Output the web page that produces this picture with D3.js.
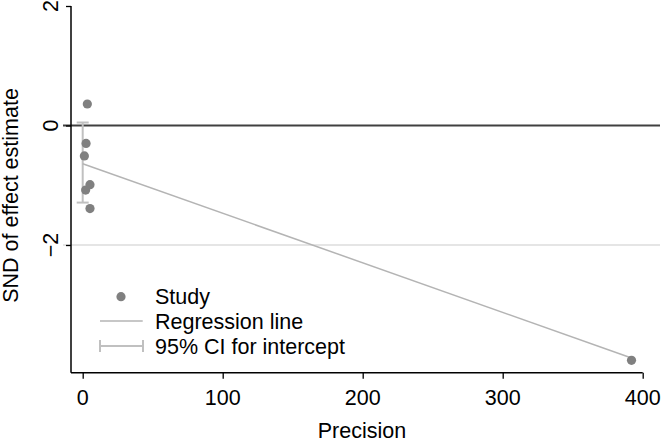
<!DOCTYPE html>
<html><head><meta charset="utf-8">
<script src="https://cdn.jsdelivr.net/npm/d3@7"></script>
<style>body{margin:0;background:#fff}svg{display:block}text{font-family:"Liberation Sans",Arial,sans-serif;fill:#000}</style>
</head><body><svg id="c" width="663" height="442"></svg>
<script>
const precision = [3.3, 2.4, 1.2, 5.2, 2.1, 5.2, 392];
const snd = [0.36, -0.30, -0.51, -0.99, -1.08, -1.39, -3.93];
const regX = [0, 392];
const regY = [-0.64, -3.89];
const ciIntercept = [0.05, -1.29];
const xTicks = [0, 100, 200, 300, 400];
const yTicks = [2, 0, -2];
const refLines = [0, -2];
const legendLabels = ["Study", "Regression line", "95% CI for intercept"];

const svg = d3.select("#c");
const x = d3.scaleLinear().domain([0, 400]).range([82.7, 642.7]);
const y = d3.scaleLinear().domain([2, -2]).range([6, 245]);
const xLeft = 71, yBottom = 372.7;
const fs = "21.5px";

// reference lines
svg.append("line").attr("x1", 63).attr("x2", 660).attr("y1", y(refLines[1])).attr("y2", y(refLines[1]))
  .attr("stroke", "#dcdcdc").attr("stroke-width", 1.5);
svg.append("line").attr("x1", 63).attr("x2", 660).attr("y1", y(refLines[0])).attr("y2", y(refLines[0]))
  .attr("stroke", "#404040").attr("stroke-width", 2);

// axes
const yAxis = d3.axisLeft(y).tickValues(yTicks).tickSize(5);
const gy = svg.append("g").attr("transform", `translate(${xLeft},0)`).call(yAxis);
gy.select(".domain").remove();
gy.selectAll(".tick line").attr("stroke", "#000").attr("stroke-width", 1.3);
gy.selectAll(".tick text").remove();
svg.append("line").attr("x1", xLeft).attr("x2", xLeft).attr("y1", y(2)).attr("y2", yBottom).attr("stroke", "#000").attr("stroke-width", 1.5);
yTicks.forEach(t => {
  svg.append("text").attr("transform", `translate(58,${y(t)}) rotate(-90)`)
    .attr("text-anchor", "middle").style("font-size", fs)
    .text(t < 0 ? "\u2212" + Math.abs(t) : t);
});

const xAxis = d3.axisBottom(x).tickValues(xTicks).tickSize(6);
const gx = svg.append("g").attr("transform", `translate(0,${yBottom})`).call(xAxis);
gx.select(".domain").remove();
gx.selectAll(".tick line").attr("stroke", "#000").attr("stroke-width", 1.3);
gx.selectAll(".tick text").remove();
svg.append("line").attr("x1", xLeft).attr("x2", x(400)).attr("y1", yBottom).attr("y2", yBottom).attr("stroke", "#000").attr("stroke-width", 1.5);
xTicks.forEach(t => {
  svg.append("text").attr("x", x(t)).attr("y", 405).attr("text-anchor", "middle").style("font-size", fs).text(t);
});

// titles
svg.append("text").attr("x", 362).attr("y", 438).attr("text-anchor", "middle").style("font-size", fs).text("Precision");
svg.append("text").attr("transform", "translate(17.5,195.5) rotate(-90)").attr("text-anchor", "middle").style("font-size", fs).text("SND of effect estimate");

// CI for intercept
svg.append("line").attr("x1", x(0)).attr("x2", x(0)).attr("y1", y(ciIntercept[0])).attr("y2", y(ciIntercept[1]))
  .attr("stroke", "#c0c0c0").attr("stroke-width", 2);
ciIntercept.forEach(v => svg.append("line").attr("x1", x(0) - 6).attr("x2", x(0) + 6).attr("y1", y(v)).attr("y2", y(v))
  .attr("stroke", "#c0c0c0").attr("stroke-width", 2));

// regression line
svg.append("line").attr("x1", x(regX[0])).attr("y1", y(regY[0])).attr("x2", x(regX[1])).attr("y2", y(regY[1]))
  .attr("stroke", "#b4b4b4").attr("stroke-width", 1.5);

// points
svg.selectAll("circle.pt").data(precision).enter().append("circle").attr("class", "pt")
  .attr("cx", d => x(d)).attr("cy", (d, i) => y(snd[i])).attr("r", 4.6).attr("fill", "#808080");

// legend
const lg = svg.append("g");
lg.append("circle").attr("cx", 121).attr("cy", 296.7).attr("r", 4.6).attr("fill", "#808080");
lg.append("line").attr("x1", 100).attr("x2", 142.7).attr("y1", 321).attr("y2", 321).attr("stroke", "#b4b4b4").attr("stroke-width", 1.5);
lg.append("line").attr("x1", 100).attr("x2", 143).attr("y1", 346).attr("y2", 346).attr("stroke", "#c0c0c0").attr("stroke-width", 2);
[100, 143].forEach(cx => lg.append("line").attr("x1", cx).attr("x2", cx).attr("y1", 340).attr("y2", 352).attr("stroke", "#c0c0c0").attr("stroke-width", 2));
legendLabels.forEach((l, i) => lg.append("text").attr("x", 155).attr("y", 304 + i * 25).style("font-size", fs).text(l));
</script></body></html>
